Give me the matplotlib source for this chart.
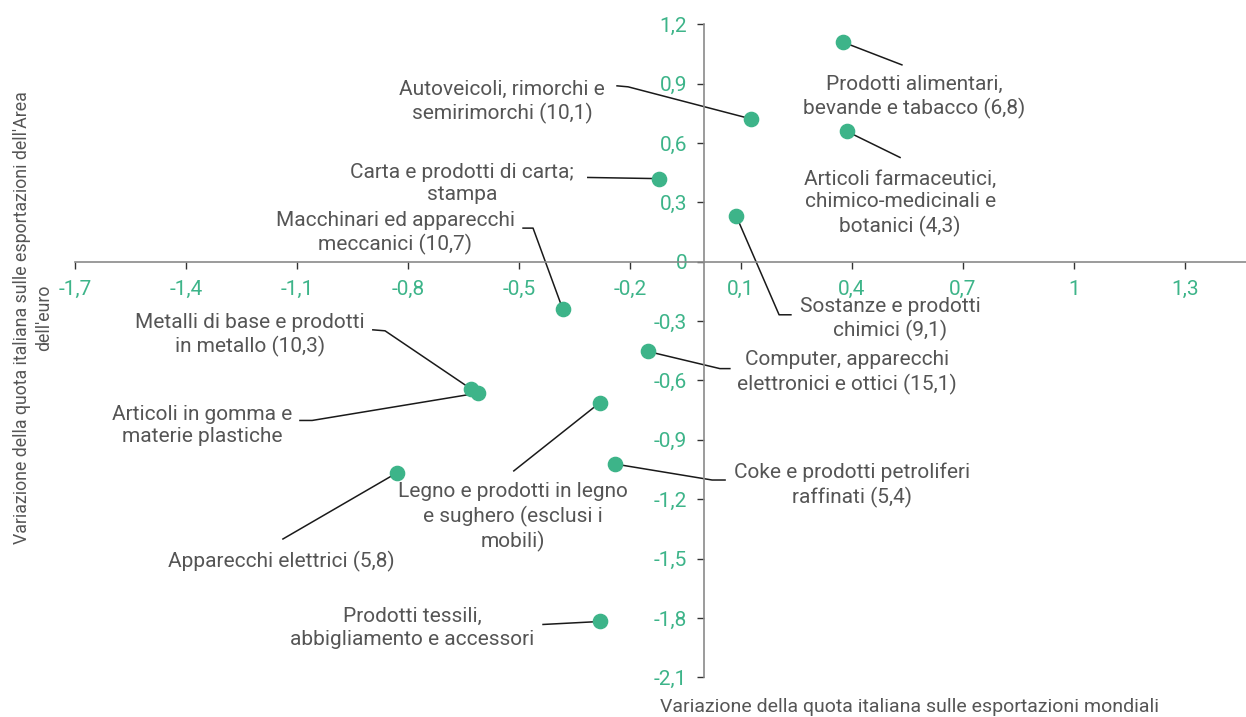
import matplotlib
matplotlib.use('Agg')
import matplotlib.pyplot as plt
import matplotlib.ticker as ticker
import numpy as np

# ── dati ──────────────────────────────────────────────
settori = [
    'Prodotti alimentari,\nbevande e tabacco (6,8)',
    'Autoveicoli, rimorchi e\nsemirimorchi (10,1)',
    'Articoli farmaceutici,\nchimico-medicinali e\nbotanici (4,3)',
    'Carta e prodotti di carta;\nstampa',
    'Sostanze e prodotti\nchimici (9,1)',
    'Macchinari ed apparecchi\nmeccanici (10,7)',
    'Computer, apparecchi\nelettronici e ottici (15,1)',
    'Metalli di base e prodotti\nin metallo (10,3)',
    'Articoli in gomma e\nmaterie plastiche',
    'Legno e prodotti in legno\ne sughero (esclusi i\nmobili)',
    'Coke e prodotti petroliferi\nraffinati (5,4)',
    'Apparecchi elettrici (5,8)',
    'Prodotti tessili,\nabbigliamento e accessori',
]
var_mondo = [0.377, 0.127, 0.386, -0.121, 0.087, -0.382, -0.152,
             -0.631, -0.612, -0.282, -0.241, -0.831, -0.281]
var_euro = [1.109, 0.722, 0.659, 0.420, 0.232, -0.238, -0.453,
            -0.641, -0.664, -0.713, -1.022, -1.068, -1.818]

x_ticks = np.round(np.arange(-1.7, 1.31, 0.3), 1)
y_ticks = np.round(np.arange(-2.1, 1.21, 0.3), 1)

# ── posizione etichette e linee guida (layout) ───────
label_pos = [(0.568, 0.854), (-0.546, 0.829), (0.530, 0.316), (-0.654, 0.416),
             (0.503, -0.268), (-0.835, 0.165), (0.386, -0.540), (-1.227, -0.349),
             (-1.357, -0.807), (-0.516, -1.270), (0.400, -1.109), (-1.143, -1.496),
             (-0.789, -1.829)]
leaders = [
    [(0.535, 0.995)],
    [(-0.205, 0.884), (-0.235, 0.889)],
    [(0.530, 0.527)],
    [(-0.314, 0.426)],
    [(0.203, -0.268), (0.235, -0.268)],
    [(-0.462, 0.170), (-0.489, 0.170)],
    [(0.043, -0.540), (0.070, -0.540)],
    [(-0.862, -0.349), (-0.895, -0.344)],
    [(-1.059, -0.802), (-1.092, -0.802)],
    [(-0.514, -1.057)],
    [(0.022, -1.103), (0.057, -1.103)],
    [(-1.138, -1.401)],
    [(-0.435, -1.833)],
]

GREEN = '#3db489'
TEXT = '#555555'

plt.rcParams['font.family'] = ['Roboto', 'DejaVu Sans']


def fmt(v, pos=None):
    v = round(v, 1)
    if v == 0:
        return '0'
    s = f'{v:g}'
    return s.replace('.', ',')


fig = plt.figure(figsize=(12.46, 7.17), dpi=100)
ax = fig.add_axes([75 / 1246, 1 - 677.3 / 717, 1 - 75 / 1246, (677.3 - 24.3) / 717])

ax.set_xlim(-1.7, 1.465)
ax.set_ylim(-2.1, 1.2)

for sp in ['top', 'right']:
    ax.spines[sp].set_visible(False)
ax.spines['left'].set_position(('data', 0))
ax.spines['bottom'].set_position(('data', 0))
for sp in ['left', 'bottom']:
    ax.spines[sp].set_color('#8a8a8a')
    ax.spines[sp].set_linewidth(1.2)

ax.set_xticks(x_ticks)
ax.set_yticks(y_ticks)
ax.xaxis.set_major_formatter(ticker.FuncFormatter(fmt))
ax.yaxis.set_major_formatter(ticker.FuncFormatter(fmt))
ax.tick_params(axis='both', colors='#333333', labelcolor=GREEN, labelsize=15,
               length=5, width=1)
ax.tick_params(axis='x', pad=8)
ax.tick_params(axis='y', pad=7)

# linee guida
for xi, yi, path in zip(var_mondo, var_euro, leaders):
    xs = [xi] + [p[0] for p in path]
    ys = [yi] + [p[1] for p in path]
    ax.plot(xs, ys, color='#1a1a1a', lw=1.1, zorder=2, clip_on=False)

ax.scatter(var_mondo, var_euro, s=105, color=GREEN, zorder=3, clip_on=False)

for lab, (tx, ty) in zip(settori, label_pos):
    ax.text(tx, ty - 0.02, lab, ha='center', va='center', fontsize=15, color=TEXT,
            linespacing=1.25, zorder=4)

fig.text(910 / 1246, 1 - 707 / 717, 'Variazione della quota italiana sulle esportazioni mondiali',
         ha='center', va='center', fontsize=14, color=TEXT)
fig.text(33 / 1246, 1 - 318 / 717,
         "Variazione della quota italiana sulle esportazioni dell'Area\ndell'euro",
         ha='center', va='center', rotation=90, fontsize=12.8, color=TEXT,
         linespacing=1.3)

fig.savefig('out.png', dpi=100, facecolor='white')
